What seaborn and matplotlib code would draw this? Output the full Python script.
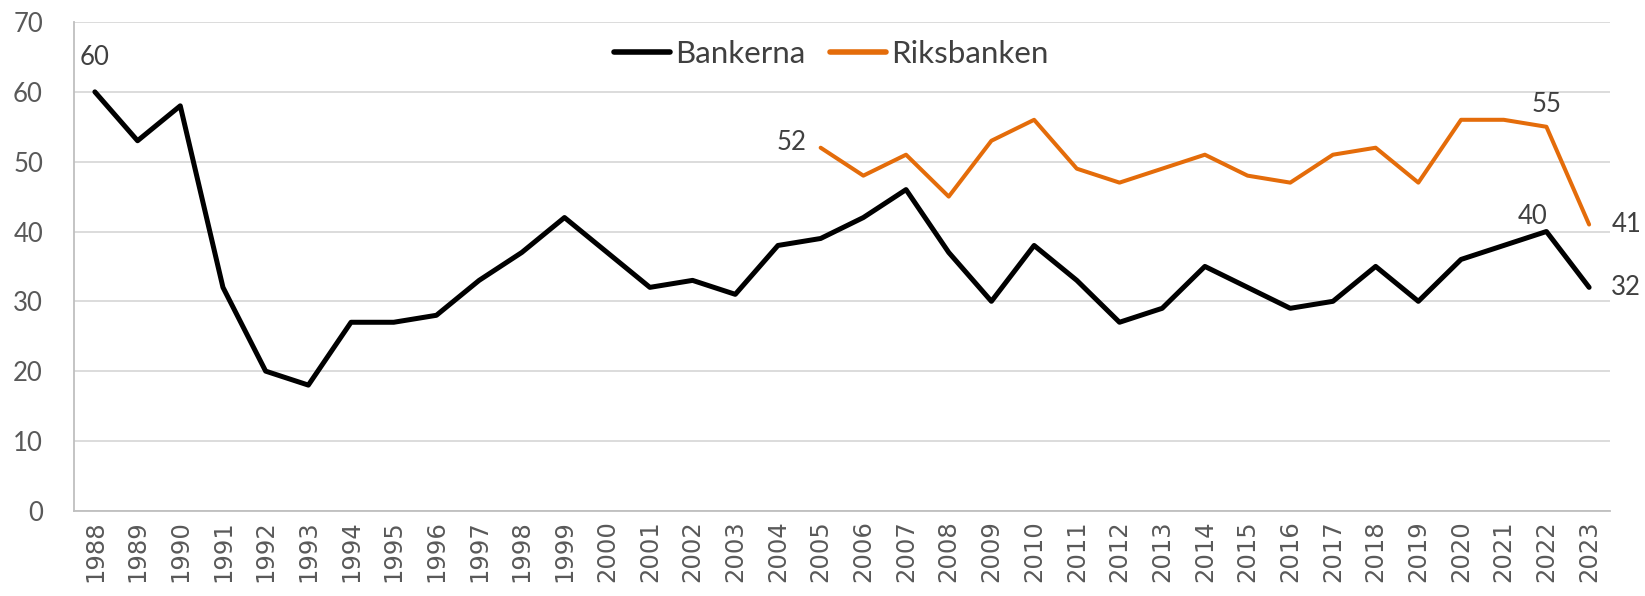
import matplotlib
matplotlib.use("Agg")
import matplotlib.pyplot as plt
import seaborn as sns
import pandas as pd

years = list(range(1988, 2024))
bankerna = [60, 53, 58, 32, 20, 18, 27, 27, 28, 33, 37, 42, 37, 32, 33, 31, 38, 39,
            42, 46, 37, 30, 38, 33, 27, 29, 35, 32, 29, 30, 35, 30, 36, 38, 40, 32]
riks_years = list(range(2005, 2024))
riksbanken = [52, 48, 51, 45, 53, 56, 49, 47, 49, 51, 48, 47, 51, 52, 47, 56, 56, 55, 41]

sns.set_style("white")
plt.rcParams['font.family'] = ['Lato', 'DejaVu Sans']

df_b = pd.DataFrame({"year": years, "value": bankerna})
df_r = pd.DataFrame({"year": riks_years, "value": riksbanken})

fig, ax = plt.subplots(figsize=(16.45, 5.96), dpi=100)
fig.subplots_adjust(left=0.0447, right=0.979, top=0.963, bottom=0.143)

sns.lineplot(data=df_b, x="year", y="value", ax=ax, color="black", linewidth=3.6,
             label="Bankerna")
sns.lineplot(data=df_r, x="year", y="value", ax=ax, color="#E46C0A", linewidth=2.9,
             label="Riksbanken")

ax.set_xlim(years[0] - 0.5, years[-1] + 0.5)
ax.set_ylim(0, 70)
ax.set_yticks(range(0, 71, 10))
ax.set_xticks(years)
ax.set_xticklabels([str(y) for y in years], rotation=90, family="DejaVu Sans",
                   fontsize=17.5)
ax.set_xlabel("")
ax.set_ylabel("")
ax.tick_params(axis="both", colors="#595959", length=0)
ax.tick_params(axis="y", labelsize=18.5, pad=22)
ax.tick_params(axis="x", pad=7)

ax.grid(axis="y", color="#d9d9d9", linewidth=1.3)
ax.set_axisbelow(True)
for s in ["top", "right"]:
    ax.spines[s].set_visible(False)
for s in ["left", "bottom"]:
    ax.spines[s].set_color("#bfbfbf")
    ax.spines[s].set_linewidth(1.3)

leg = ax.legend(loc="center", bbox_to_anchor=(0.493, 0.934), ncol=2, frameon=False,
                fontsize=22.5, handlelength=1.8, columnspacing=0.8, handletextpad=0.16)
for t in leg.get_texts():
    t.set_color("#404040")
for h in leg.get_lines():
    h.set_linewidth(4)
    h.set_solid_capstyle("round")

lab = dict(fontsize=18.5, color="#404040")
ax.annotate(str(bankerna[0]), (years[0], bankerna[0]), xytext=(-11, 16),
            textcoords="offset points", ha="left", va="bottom", **lab)
ax.annotate(str(bankerna[-2]), (years[-2], bankerna[-2]), xytext=(1, 2),
            textcoords="offset points", ha="right", va="bottom", **lab)
ax.annotate(str(bankerna[-1]), (years[-1], bankerna[-1]), xytext=(16, 0),
            textcoords="offset points", ha="left", va="center", **lab)
ax.annotate(str(riksbanken[0]), (riks_years[0], riksbanken[0]), xytext=(-10, 4),
            textcoords="offset points", ha="right", va="center", **lab)
ax.annotate(str(riksbanken[-2]), (riks_years[-2], riksbanken[-2]), xytext=(0, 7),
            textcoords="offset points", ha="center", va="bottom", **lab)
ax.annotate(str(riksbanken[-1]), (riks_years[-1], riksbanken[-1]), xytext=(16, 0),
            textcoords="offset points", ha="left", va="center", **lab)

fig.savefig("out.png", dpi=100)
